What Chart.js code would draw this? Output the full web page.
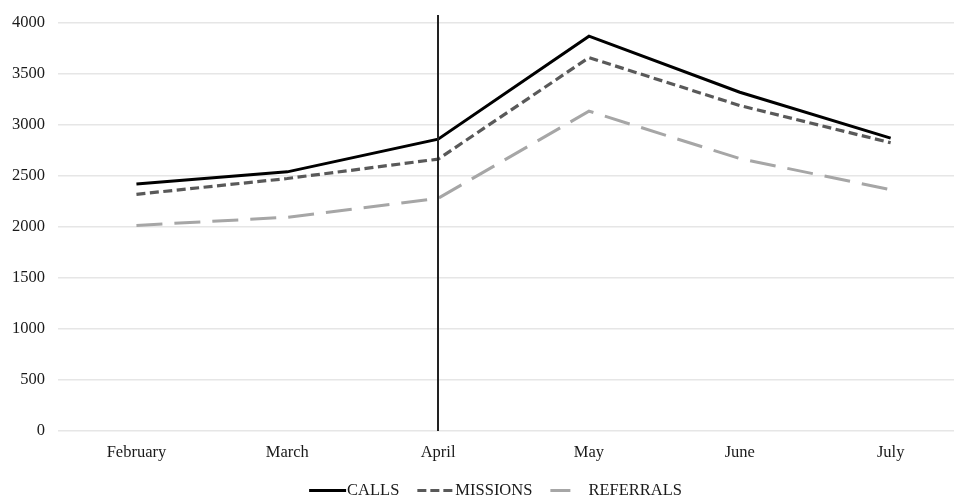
<!DOCTYPE html>
<html>
<head>
<meta charset="utf-8">
<script src="https://cdn.jsdelivr.net/npm/chart.js@4/dist/chart.umd.min.js"></script>
<style>
  html, body { margin: 0; padding: 0; background: #fff; }
  #wrap { width: 954px; height: 498px; position: relative; }
</style>
</head>
<body>
<div id="wrap"><canvas id="c" width="954" height="498"></canvas></div>
<script>
const categories = ['February', 'March', 'April', 'May', 'June', 'July'];
const calls = [2420, 2540, 2860, 3870, 3320, 2870];
const missions = [2320, 2475, 2665, 3660, 3190, 2825];
const referrals = [2015, 2095, 2280, 3135, 2670, 2365];
const yTicks = [0, 500, 1000, 1500, 2000, 2500, 3000, 3500, 4000];
const markerCategory = 'April';

const toPts = arr => arr.map((v, i) => ({ x: i, y: v }));
const FONT = '16.5px "Liberation Serif"';

const markerPlugin = {
  id: 'marker',
  afterDatasetsDraw(chart) {
    const xs = chart.scales.x;
    const ys = chart.scales.y;
    const px = Math.round(xs.getPixelForValue(categories.indexOf(markerCategory)));
    const ctx = chart.ctx;
    ctx.save();
    ctx.strokeStyle = '#222222';
    ctx.lineWidth = 2;
    ctx.beginPath();
    ctx.moveTo(px, ys.top - 8);
    ctx.lineTo(px, ys.bottom);
    ctx.stroke();
    ctx.restore();
  }
};

const legendPlugin = {
  id: 'customLegend',
  afterDraw(chart) {
    const ctx = chart.ctx;
    const ds = chart.data.datasets;
    const sample = 37, gap = 1, spacing = 18, y = 490.5;
    ctx.save();
    ctx.font = FONT;
    const widths = ds.map(d => ctx.measureText(d.label).width);
    const total = widths.reduce((a, w) => a + sample + gap + w, 0) + spacing * (ds.length - 1);
    let x = 495.5 - total / 2;
    ds.forEach((d, i) => {
      ctx.strokeStyle = d.borderColor;
      ctx.lineWidth = d.borderWidth;
      ctx.setLineDash(d.legendDash || d.borderDash || []);
      ctx.beginPath();
      ctx.moveTo(x, y);
      ctx.lineTo(x + sample, y);
      ctx.stroke();
      ctx.setLineDash([]);
      ctx.fillStyle = '#1a1a1a';
      ctx.textBaseline = 'middle';
      ctx.textAlign = 'left';
      ctx.fillText(d.label, x + sample + gap, y);
      x += sample + gap + widths[i] + spacing;
    });
    ctx.restore();
  }
};

new Chart(document.getElementById('c'), {
  type: 'line',
  data: {
    datasets: [
      { label: 'CALLS', data: toPts(calls), borderColor: '#000000', backgroundColor: '#000000', borderWidth: 3, pointRadius: 0, tension: 0 },
      { label: 'MISSIONS', data: toPts(missions), borderColor: '#595959', backgroundColor: '#595959', borderWidth: 3.2, borderDash: [9, 4.5], legendDash: [9, 4], pointRadius: 0, tension: 0 },
      { label: 'REFERRALS', data: toPts(referrals), borderColor: '#a6a6a6', backgroundColor: '#a6a6a6', borderWidth: 3, borderDash: [26, 12], legendDash: [20, 100], pointRadius: 0, tension: 0 }
    ]
  },
  options: {
    responsive: false,
    animation: false,
    layout: { padding: { top: 20, right: 0, left: 0, bottom: 0 } },
    plugins: {
      tooltip: { enabled: false },
      legend: { display: false }
    },
    scales: {
      x: {
        type: 'linear',
        min: -0.52,
        max: 5.42,
        afterBuildTicks(scale) { scale.ticks = categories.map((c, i) => ({ value: i })); },
        afterFit(scale) { scale.height = 67; },
        ticks: {
          callback: (v) => categories[v] ?? '',
          color: '#1a1a1a',
          padding: 12,
          maxRotation: 0,
          autoSkip: false,
          font: { family: 'Liberation Serif', size: 16.5 }
        },
        grid: { display: false, drawTicks: false },
        border: { display: false }
      },
      y: {
        min: 0,
        max: 4000,
        afterBuildTicks(scale) { scale.ticks = yTicks.map(v => ({ value: v })); },
        afterFit(scale) { scale.width = 58; },
        ticks: {
          callback: (v) => String(v),
          color: '#1a1a1a',
          padding: 13,
          font: { family: 'Liberation Serif', size: 16.5 }
        },
        grid: { color: '#e6e6e6', lineWidth: 1.5, drawTicks: false },
        border: { display: false }
      }
    }
  },
  plugins: [markerPlugin, legendPlugin]
});
</script>
</body>
</html>
